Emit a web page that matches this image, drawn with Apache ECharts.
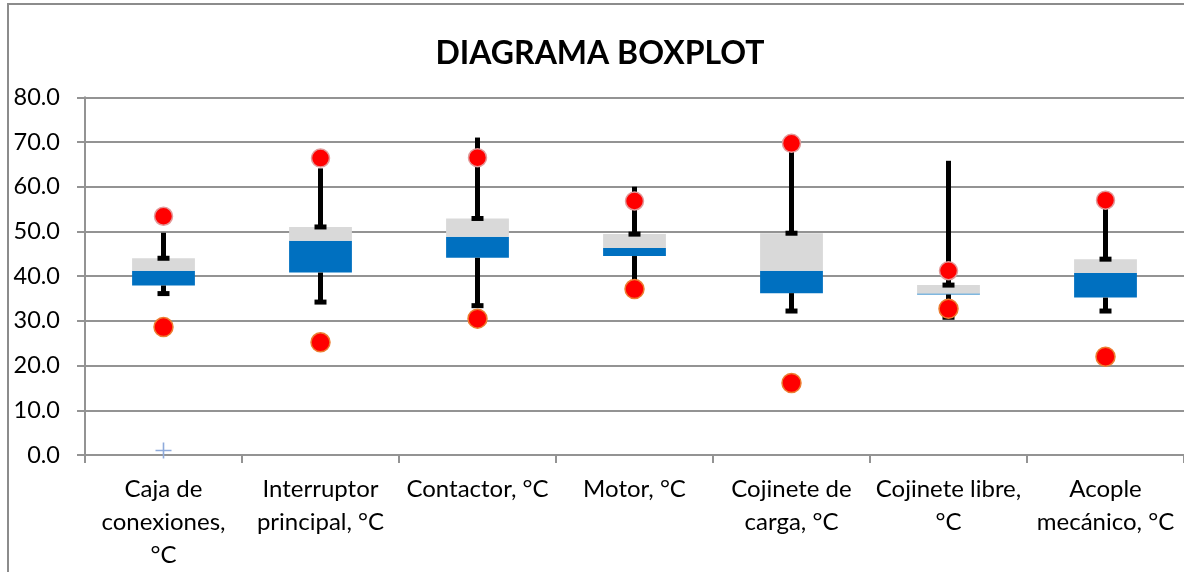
<!DOCTYPE html>
<html>
<head>
<meta charset="utf-8">
<script src="https://cdn.jsdelivr.net/npm/echarts@6/dist/echarts.min.js"></script>
<style>
html,body{margin:0;padding:0;background:#fff;}
#c{width:1184px;height:572px;}
</style>
</head>
<body>
<div id="c"></div>
<script>
var categories = ["Caja de\nconexiones,\n°C", "Interruptor\nprincipal, °C", "Contactor, °C", "Motor, °C", "Cojinete de\ncarga, °C", "Cojinete libre,\n°C", "Acople\nmecánico, °C"];
var q1 = [37.9, 40.8, 44.1, 44.5, 36.2, 35.9, 35.2];
var median = [41.2, 47.9, 48.8, 46.3, 41.2, 36.1, 40.7];
var q3 = [44.0, 51.0, 52.9, 49.4, 49.6, 38.0, 43.8];
var whiskerHigh = [49.7, 64.1, 71.0, 60.0, 69.5, 65.8, 55.2];
var whiskerLow = [36.1, 34.2, 33.4, 37.3, 32.2, 30.8, 32.2];
var upperPoint = [53.4, 66.4, 66.5, 56.8, 69.7, 41.2, 57.0];
var lowerPoint = [28.6, 25.2, 30.5, 37.1, 16.1, 32.7, 22.0];
var extraPoint = [1.0, null, null, null, null, null, null];
var yTicks = [0, 10, 20, 30, 40, 50, 60, 70, 80];

var FONT = 'Lato';
var blueBox = median.map(function (m, i) { return +(m - q1[i]).toFixed(2); });
var grayBox = q3.map(function (q, i) { return +(q - median[i]).toFixed(2); });
var whiskerData = categories.map(function (c, i) { return [i, q3[i], whiskerHigh[i], whiskerLow[i], q1[i]]; });

var chart = echarts.init(document.getElementById('c'), null, {renderer: 'canvas'});
chart.setOption({
  animation: false,
  backgroundColor: '#fff',
  graphic: [
    {type: 'rect', shape: {x: 8, y: 4, width: 1250, height: 650}, style: {fill: 'none', stroke: '#8c8c8c', lineWidth: 2}, z: 0},
    {type: 'text', x: 600, y: 54, style: {text: 'DIAGRAMA BOXPLOT', font: 'bold 32px ' + FONT, fill: '#000', textAlign: 'center', textVerticalAlign: 'middle'}, z: 10}
  ],
  grid: {left: 85, top: 97.3, width: 1102.5, height: 357.7, containLabel: false},
  xAxis: {
    type: 'category',
    data: categories,
    boundaryGap: true,
    axisLine: {show: true, lineStyle: {color: '#939393', width: 2}},
    axisTick: {show: true, length: 8, lineStyle: {color: '#939393', width: 2}},
    axisLabel: {color: '#000', fontFamily: FONT, fontSize: 24, lineHeight: 33, margin: 18, interval: 0, align: 'center'},
    splitLine: {show: false}
  },
  yAxis: {
    type: 'value',
    min: yTicks[0], max: yTicks[yTicks.length - 1], interval: 10,
    axisLine: {show: true, lineStyle: {color: '#939393', width: 2}},
    axisTick: {show: true, length: 8, lineStyle: {color: '#939393', width: 2}},
    axisLabel: {color: '#000', fontFamily: FONT, fontSize: 23.5, margin: 25, formatter: function (v) { return v.toFixed(1); }},
    splitLine: {show: true, lineStyle: {color: '#939393', width: 2}}
  },
  series: [
    {type: 'bar', stack: 'box', data: q1, barWidth: '40%', itemStyle: {color: 'rgba(0,0,0,0)'}, silent: true, z: 2},
    {type: 'bar', stack: 'box', data: blueBox, barWidth: '40%', itemStyle: {color: '#0070c0'}, z: 2},
    {type: 'bar', stack: 'box', data: grayBox, barWidth: '40%', itemStyle: {color: '#d9d9d9'}, z: 2},
    {
      type: 'custom', data: whiskerData, z: 5,
      renderItem: function (params, api) {
        var x = api.coord([api.value(0), 0])[0];
        var yQ3 = api.coord([0, api.value(1)])[1];
        var yHi = api.coord([0, api.value(2)])[1];
        var yLo = api.coord([0, api.value(3)])[1];
        var yQ1 = api.coord([0, api.value(4)])[1];
        var st = {stroke: '#000', lineWidth: 5};
        return {type: 'group', children: [
          {type: 'line', shape: {x1: x, y1: yHi, x2: x, y2: yQ3}, style: st},
          {type: 'rect', shape: {x: x - 6, y: yQ3 - 2.5, width: 12, height: 5}, style: {fill: '#000'}},
          {type: 'line', shape: {x1: x, y1: yQ1, x2: x, y2: yLo}, style: st},
          {type: 'rect', shape: {x: x - 6, y: yLo - 2.5, width: 12, height: 5}, style: {fill: '#000'}}
        ]};
      }
    },
    {type: 'scatter', data: upperPoint, symbol: 'circle', symbolSize: 18, z: 8,
      itemStyle: {color: '#ff0000', borderColor: '#e39a9a', borderWidth: 1.5, opacity: 1}},
    {type: 'scatter', data: lowerPoint, symbol: 'circle', symbolSize: 19, z: 8,
      itemStyle: {color: '#ff0000', borderColor: '#ed7d31', borderWidth: 1.5, opacity: 1}},
    {type: 'scatter', data: extraPoint, symbol: 'path://M0,7.2h16v1.6h-16z M7.2,0h1.6v16h-1.6z', symbolSize: 16, z: 8,
      itemStyle: {color: '#8eaadb', opacity: 1}}
  ]
});
</script>
</body>
</html>
